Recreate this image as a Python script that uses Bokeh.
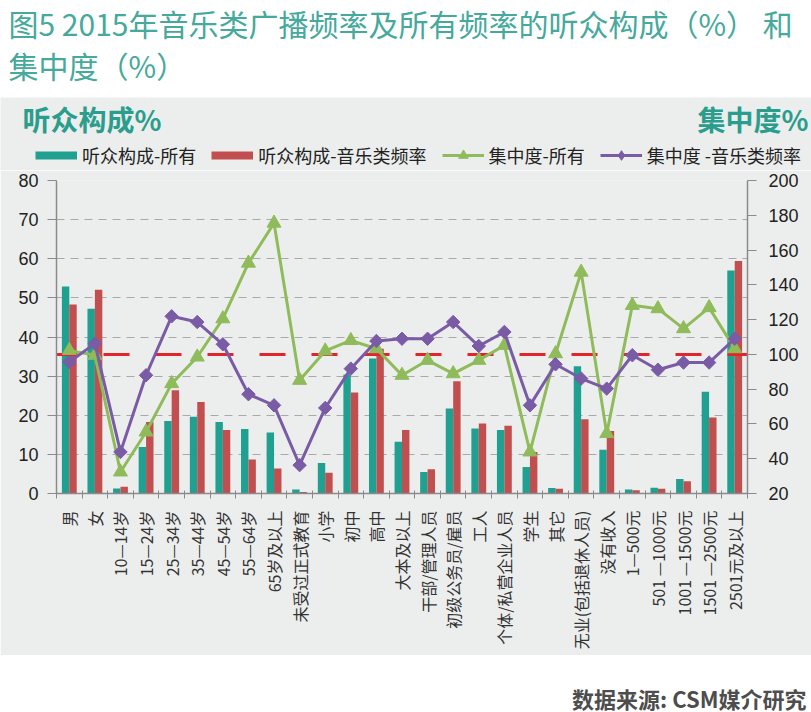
import math
from bokeh.plotting import figure
from bokeh.layouts import column
from bokeh.models import (Range1d, LinearAxis, FixedTicker, Label, Legend,
                          LegendItem, ColumnDataSource)
from bokeh.transform import dodge
from bokeh.embed import file_html
from bokeh.resources import INLINE

# ---------------- data ----------------
categories = ["男", "女", "10—14岁", "15—24岁", "25—34岁", "35—44岁", "45—54岁",
              "55—64岁", "65岁及以上", "未受过正式教育", "小学", "初中", "高中",
              "大本及以上", "干部/管理人员", "初级公务员/雇员", "工人",
              "个体/私营企业人员", "学生", "其它", "无业(包括退休人员)", "没有收入",
              "1—500元", "501 —1000元", "1001 —1500元", "1501 —2500元", "2501元及以上"]
share_all = [52.9, 47.2, 1.3, 11.9, 18.5, 19.6, 18.3, 16.5, 15.6, 1.0, 7.8, 30.4,
             34.5, 13.2, 5.5, 21.7, 16.6, 16.2, 6.8, 1.4, 32.5, 11.2, 1.0, 1.5,
             3.7, 26.0, 57.0]
share_music = [48.3, 52.1, 1.7, 18.3, 26.4, 23.4, 16.2, 8.7, 6.4, 0.4, 5.3, 25.8,
               37.0, 16.2, 6.2, 28.7, 17.9, 17.3, 10.6, 1.2, 19.0, 16.0, 0.85, 1.2,
               3.1, 19.4, 59.4]
conc_all = [102.3, 99.5, 32.4, 55.4, 83.2, 98.5, 120.5, 152.5, 175.5, 85.1, 102.0,
            108.0, 103.3, 88.0, 96.6, 88.9, 96.6, 105.2, 43.9, 100.4, 147.3, 54.5,
            128.2, 126.3, 114.8, 126.9, 103.3]
conc_music = [95.6, 106.2, 43.9, 88.0, 121.9, 118.6, 105.8, 77.1, 70.7, 36.3, 69.2,
              91.8, 107.7, 109.0, 109.0, 118.6, 104.8, 112.9, 70.7, 94.3, 86.1, 80.3,
              99.5, 91.2, 95.3, 95.3, 109.0]
benchmark = 100
left_ticks = list(range(0, 81, 10))
right_ticks = list(range(20, 201, 20))

title_line1 = "图5 2015年音乐类广播频率及所有频率的听众构成（%） 和"
title_line2 = "集中度（%）"
left_title = "听众构成%"
right_title = "集中度%"
source_text = "数据来源: CSM媒介研究"
legend_labels = ["听众构成-所有", "听众构成-音乐类频率", "集中度-所有", "集中度 -音乐类频率"]

# ---------------- style ----------------
TEAL = "#1fa090"
RED = "#c24f50"
GREEN = "#8fbb5a"
PURPLE = "#7a5ba6"
DASHRED = "#e3252b"
PANEL = "#eceeed"
TITLE_C = "#45a99c"
HEAD_C = "#2a9d8c"
CJK = "Noto Sans CJK SC"
NUM = "Liberation Sans"

W = 811
H_TITLE, H_HEAD, H_MAIN, H_SRC = 97, 73, 485, 57
FL, FR = 56, 747          # frame left / right (canvas px)
FT, FB = 10, 323          # frame top / bottom inside main figure


def blank_fig(h, bg):
    f = figure(width=W, height=h, output_backend="svg", toolbar_location=None,
               x_range=Range1d(0, 1), y_range=Range1d(0, 1),
               x_axis_location=None, y_axis_location=None,
               min_border=0, min_border_left=0, min_border_right=0,
               min_border_top=0, min_border_bottom=0,
               background_fill_color=bg, border_fill_color=bg,
               outline_line_color=None, frame_align=False)
    f.grid.visible = False
    return f


def add_text(f, h, text, cx, cy, size, color, bold=False, align="left", font=CJK):
    f.add_layout(Label(x=cx, y=h - cy, x_units="screen", y_units="screen",
                       text=text, text_font=font, text_font_size=f"{size}px",
                       text_color=color, text_font_style="bold" if bold else "normal",
                       text_align=align, text_baseline="middle"))


# ---------------- title ----------------
ft = blank_fig(H_TITLE, "white")
add_text(ft, H_TITLE, title_line1, 8, 22, 30, TITLE_C)
add_text(ft, H_TITLE, title_line2, 8, 64, 30, TITLE_C)

# ---------------- header (axis titles + legend) ----------------
fh = blank_fig(H_HEAD, PANEL)
add_text(fh, H_HEAD, left_title, 22, 21.5, 28, HEAD_C, bold=True)
add_text(fh, H_HEAD, right_title, 808, 21.5, 28, HEAD_C, bold=True, align="right")
off = [-5.0, -4.0]   # legend proxies, outside the visible range
lg_a = fh.line(x=off, y=off, line_color=TEAL, line_width=8)
lg_m = fh.line(x=off, y=off, line_color=RED, line_width=8)
lg_gl = fh.line(x=off, y=off, line_color=GREEN, line_width=3)
lg_gm = fh.scatter(x=off, y=off, marker="triangle", size=10, fill_color=GREEN, line_color=GREEN)
lg_pl = fh.line(x=off, y=off, line_color=PURPLE, line_width=3)
lg_pm = fh.scatter(x=off, y=off, marker="diamond", size=11,
                   fill_color=PURPLE, line_color=PURPLE)
legend = Legend(items=[LegendItem(label=legend_labels[0], renderers=[lg_a]),
                       LegendItem(label=legend_labels[1], renderers=[lg_m]),
                       LegendItem(label=legend_labels[2], renderers=[lg_gl, lg_gm]),
                       LegendItem(label=legend_labels[3], renderers=[lg_pl, lg_pm])],
                location=(35, 2.5), orientation="horizontal",
                glyph_width=42, glyph_height=24, label_height=24,
                label_standoff=5, spacing=15, padding=0, margin=0,
                border_line_color=None, background_fill_alpha=0,
                label_text_font=CJK, label_text_font_size="18px",
                label_text_color="#222222")
fh.add_layout(legend, "center")

# ---------------- main chart ----------------
n = len(categories)
xs = [i + 0.5 for i in range(n)]
src = ColumnDataSource(dict(x=xs, cat=categories, sa=share_all, sm=share_music,
                            ca=conc_all, cm=conc_music))

p = figure(width=W, height=H_MAIN, output_backend="svg", toolbar_location=None,
           x_range=Range1d(0, n), y_range=Range1d(0, 80),
           min_border_left=FL, min_border_right=W - FR,
           min_border_top=FT, min_border_bottom=H_MAIN - FB,
           background_fill_color=PANEL, border_fill_color=PANEL,
           outline_line_color=None, frame_align=False)
p.extra_y_ranges = {"conc": Range1d(20, 200)}

xax = p.xaxis[0]
xax.ticker = FixedTicker(ticks=xs, minor_ticks=list(range(n + 1)))
xax.major_label_overrides = {x: c for x, c in zip(xs, categories)}
xax.major_label_orientation = math.pi / 2
xax.major_tick_out = 0
xax.major_tick_in = 0
xax.minor_tick_out = 5
xax.minor_tick_in = 3
xax.minor_tick_line_color = "#8a8a8a"
xax.axis_line_color = "#8a8a8a"
xax.axis_line_width = 1.5
xax.major_label_standoff = 12
xax.major_label_text_font = CJK
xax.major_label_text_font_size = "16px"
xax.major_label_text_color = "#333333"

yax = p.yaxis[0]
yax.ticker = FixedTicker(ticks=left_ticks)
rax = LinearAxis(y_range_name="conc", ticker=FixedTicker(ticks=right_ticks))
p.add_layout(rax, "right")
for ax in (yax, rax):
    ax.axis_line_color = "#8a8a8a"
    ax.axis_line_width = 1.5
    ax.major_tick_line_color = "#8a8a8a"
    ax.major_tick_out = 9
    ax.major_tick_in = 0
    ax.minor_tick_out = 0
    ax.minor_tick_in = 0
    ax.major_label_text_font = NUM
    ax.major_label_text_font_size = "18px"
    ax.major_label_text_color = "#222222"
yax.major_label_standoff = 9
rax.major_label_standoff = 12

p.xgrid.visible = False
p.ygrid.grid_line_color = "#a9a9a9"
p.ygrid.grid_line_dash = "8 6"
p.ygrid.grid_line_width = 1.2

p.vbar(x=dodge("x", -0.145, range=p.x_range), top="sa", width=0.29, source=src,
       fill_color=TEAL, line_color=None)
p.vbar(x=dodge("x", 0.145, range=p.x_range), top="sm", width=0.29, source=src,
       fill_color=RED, line_color=None)

p.line(x=[0, n], y=[benchmark, benchmark], y_range_name="conc",
       line_color=DASHRED, line_width=3, line_dash="26 26", line_dash_offset=5)

p.line("x", "ca", source=src, y_range_name="conc", line_color=GREEN, line_width=3)
p.scatter("x", "ca", source=src, y_range_name="conc", marker="triangle",
          size=14, fill_color=GREEN, line_color=GREEN)
p.line("x", "cm", source=src, y_range_name="conc", line_color=PURPLE, line_width=3)
p.scatter("x", "cm", source=src, y_range_name="conc", marker="square",
          angle=math.pi / 4, size=9.5, fill_color=PURPLE, line_color=PURPLE)

# ---------------- source ----------------
fs = blank_fig(H_SRC, "white")
add_text(fs, H_SRC, source_text, 806, 42, 22, "#4d4d4d", bold=True, align="right")

layout = column(ft, fh, p, fs, spacing=0)
open("out.html", "w").write(file_html(layout, INLINE))
